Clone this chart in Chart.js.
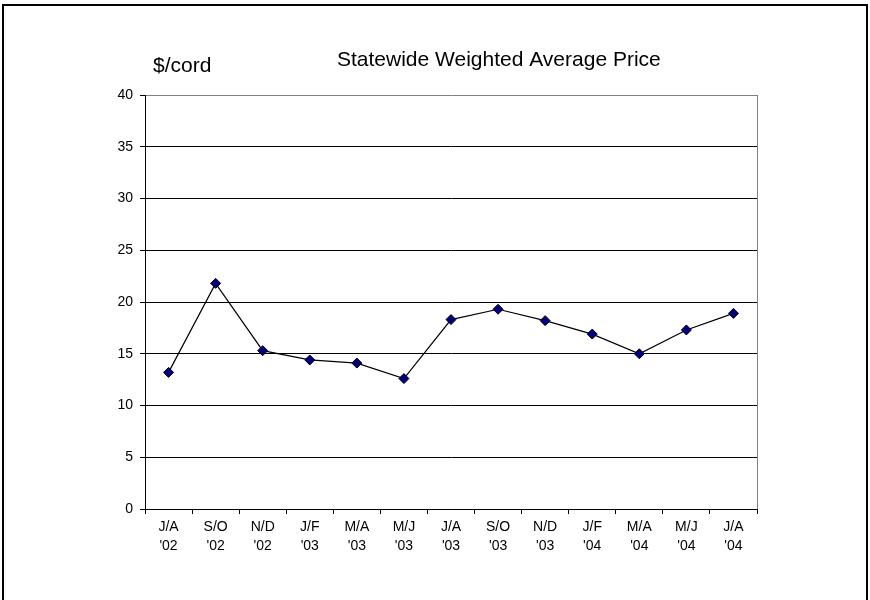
<!DOCTYPE html>
<html>
<head>
<meta charset="utf-8">
<script src="https://cdn.jsdelivr.net/npm/chart.js@4/dist/chart.umd.min.js"></script>
<style>
  body { margin: 0; background: #fff; }
  canvas { display: block; }
</style>
</head>
<body>
<canvas id="chart" width="870" height="600"></canvas>
<script>
// bi-monthly periods and their years
const periods = ["J/A", "S/O", "N/D", "J/F", "M/A", "M/J", "J/A", "S/O", "N/D", "J/F", "M/A", "M/J", "J/A"];
const years = ["'02", "'02", "'02", "'03", "'03", "'03", "'03", "'03", "'03", "'04", "'04", "'04", "'04"];
// statewide weighted average price, $/cord
const prices = [13.2, 21.8, 15.3, 14.4, 14.1, 12.6, 18.3, 19.3, 18.2, 16.9, 15.0, 17.3, 18.9];
const yTicks = [0, 5, 10, 15, 20, 25, 30, 35, 40];

const chartTitle = "Statewide Weighted Average Price";
const unitLabel = "$/cord";

const labels = periods.map((p, i) => [p, years[i]]);

// frame, plot border and titles drawn on top of the chart
const decor = {
  id: "decor",
  afterDraw(chart) {
    const ctx = chart.ctx;
    const area = chart.chartArea;
    ctx.save();
    // grey right edge of the plot
    ctx.strokeStyle = "#808080";
    ctx.lineWidth = 1;
    ctx.beginPath();
    ctx.moveTo(Math.round(area.right) + 0.5, area.top);
    ctx.lineTo(Math.round(area.right) + 0.5, area.bottom);
    ctx.stroke();
    // outer frame
    ctx.strokeStyle = "#000";
    ctx.lineWidth = 2;
    ctx.strokeRect(3, 5, 864, 610);
    // titles
    ctx.fillStyle = "#000";
    ctx.textAlign = "left";
    ctx.textBaseline = "alphabetic";
    ctx.font = '21px "Liberation Sans", Arial, sans-serif';
    ctx.fillText(chartTitle, 337, 66);
    ctx.fillText(unitLabel, 153, 72);
    ctx.restore();
  }
};

const tickFont = { family: '"Liberation Sans Narrow", "Liberation Sans", Arial, sans-serif', size: 14 };

new Chart(document.getElementById("chart"), {
  type: "line",
  data: {
    labels: labels,
    datasets: [{
      data: prices,
      borderColor: "#000",
      borderWidth: 1.2,
      pointStyle: "rectRot",
      pointRadius: 5,
      pointBackgroundColor: "#000080",
      pointBorderColor: "#000",
      pointBorderWidth: 1,
      tension: 0,
      clip: false
    }]
  },
  options: {
    responsive: false,
    animation: false,
    layout: { padding: { left: 0, top: 95, right: 113, bottom: 31 } },
    plugins: {
      legend: { display: false },
      tooltip: { enabled: false }
    },
    scales: {
      x: {
        offset: true,
        grid: {
          offset: true,
          drawOnChartArea: false,
          drawTicks: true,
          tickLength: 5,
          tickColor: "#000"
        },
        border: { color: "#000", width: 1 },
        ticks: {
          color: "#000",
          font: { ...tickFont, lineHeight: "19px" },
          padding: 4,
          maxRotation: 0,
          autoSkip: false
        },
        afterFit(scale) { scale.height = 60; }
      },
      y: {
        min: 0,
        max: 40,
        afterBuildTicks(scale) { scale.ticks = yTicks.map(v => ({ value: v })); },
        grid: {
          color: (c) => (c.tick && c.tick.value === 40 ? "#808080" : "#000"),
          tickColor: "#000",
          tickLength: 5,
          lineWidth: 1
        },
        border: { color: "#000", width: 1 },
        ticks: {
          color: "#000",
          font: tickFont,
          padding: 7
        },
        afterFit(scale) { scale.width = 145; }
      }
    }
  },
  plugins: [decor]
});
</script>
</body>
</html>
